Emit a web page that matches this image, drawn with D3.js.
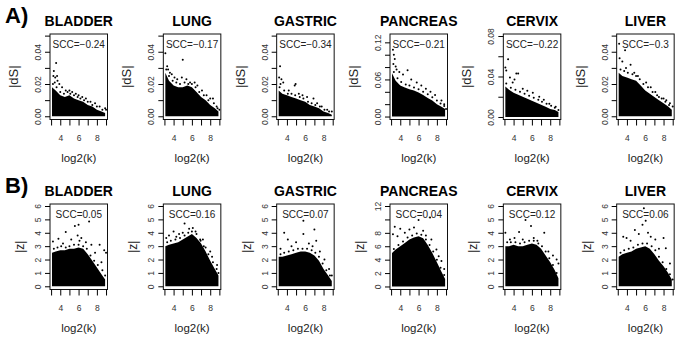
<!DOCTYPE html>
<html>
<head>
<meta charset="utf-8">
<script src="https://cdn.jsdelivr.net/npm/d3@7"></script>
<style>
  body { margin: 0; background: #fff; }
  svg { display: block; font-family: "Liberation Sans", Arial, sans-serif; }
</style>
</head>
<body>
<div id="chart"></div>
<script>
// Panels, left to right
const cancers = ["BLADDER", "LUNG", "GASTRIC", "PANCREAS", "CERVIX", "LIVER"];
const sccDS = ["-0.24", "-0.17", "-0.34", "-0.21", "-0.22", "-0.3"];
const sccZ = ["0.05", "0.16", "0.07", "0.04", "0.12", "0.06"];

// x axis, log2(k)
const kTicks = [3, 4, 5, 6, 7, 8, 9];
const kLabels = [4, 6, 8];
// grid on which the top edge of the dense point mass was read
const kGrid = [3.1, 3.5, 4, 4.5, 5, 5.5, 6, 6.5, 7, 7.5, 8, 8.5, 8.9];

// row A: |dS|
const dsDomains = [[-0.002, 0.051], [-0.002, 0.051], [-0.002, 0.051], [-0.0048, 0.1335], [-0.0025, 0.082], [-0.002, 0.051]];
const dsTicks = [
  [0, 0.01, 0.02, 0.03, 0.04, 0.05], [0, 0.01, 0.02, 0.03, 0.04, 0.05], [0, 0.01, 0.02, 0.03, 0.04, 0.05],
  [0, 0.02, 0.04, 0.06, 0.08, 0.1, 0.12], [0, 0.02, 0.04, 0.06, 0.08], [0, 0.01, 0.02, 0.03, 0.04, 0.05]
];
const dsLabels = [[0, 0.02, 0.04], [0, 0.02, 0.04], [0, 0.02, 0.04], [0, 0.06, 0.12], [0, 0.04, 0.08], [0, 0.02, 0.04]];
const dsMass = [
  [0.018, 0.016, 0.013, 0.012, 0.013, 0.011, 0.010, 0.009, 0.007, 0.006, 0.004, 0.003, 0.002],
  [0.027, 0.022, 0.019, 0.018, 0.018, 0.019, 0.018, 0.015, 0.012, 0.010, 0.007, 0.005, 0.003],
  [0.016, 0.014, 0.013, 0.012, 0.011, 0.010, 0.009, 0.007, 0.006, 0.005, 0.003, 0.002, 0.001],
  [0.070, 0.058, 0.050, 0.047, 0.044, 0.042, 0.039, 0.035, 0.030, 0.026, 0.020, 0.016, 0.012],
  [0.030, 0.027, 0.024, 0.022, 0.020, 0.018, 0.016, 0.014, 0.012, 0.010, 0.008, 0.007, 0.005],
  [0.027, 0.025, 0.024, 0.023, 0.022, 0.019, 0.016, 0.014, 0.012, 0.010, 0.008, 0.006, 0.004]
];
const dsPoints = [
  [[3.55,0.033],[3.3,0.028],[3.25,0.025],[3.45,0.024],[3.65,0.025],[3.7,0.022],[3.4,0.021],[3.9,0.020],[4.2,0.018],[4.6,0.016],[5.0,0.016],[5.3,0.015],[5.7,0.014],[6.0,0.013],[6.4,0.012],[6.8,0.011],[7.3,0.009],[7.8,0.008],[8.3,0.006],[8.9,0.005],[9.0,0.004],
   [3.2,0.020],[3.6,0.018],[4.0,0.015],[4.4,0.014],[4.8,0.015],[5.1,0.014],[5.5,0.013],[5.9,0.012],[6.2,0.011],[6.6,0.010],[7.0,0.009],[7.5,0.007],[8.0,0.006],[8.6,0.004]],
  [[3.1,0.039],[5.0,0.035],[3.3,0.031],[3.4,0.029],[3.6,0.027],[3.8,0.026],[4.1,0.024],[4.4,0.023],[4.9,0.024],[5.4,0.023],[5.8,0.021],[6.3,0.021],[6.6,0.019],[7.1,0.016],[7.6,0.013],[8.0,0.011],[8.3,0.011],[8.7,0.006],[9.0,0.004],
   [3.2,0.029],[3.5,0.025],[3.9,0.022],[4.3,0.021],[4.7,0.020],[5.2,0.021],[5.6,0.020],[6.0,0.020],[6.4,0.018],[6.8,0.015],[7.3,0.013],[7.8,0.010],[8.4,0.008],[8.8,0.005]],
  [[3.25,0.031],[3.15,0.024],[3.4,0.023],[3.6,0.021],[3.3,0.020],[4.85,0.019],[4.95,0.020],[4.2,0.016],[5.3,0.014],[5.7,0.013],[6.2,0.012],[6.9,0.011],[7.3,0.008],[7.8,0.006],[8.4,0.004],[8.9,0.003],
   [3.2,0.018],[3.7,0.016],[4.1,0.014],[4.5,0.014],[4.9,0.013],[5.4,0.012],[5.8,0.011],[6.3,0.009],[6.7,0.008],[7.1,0.007],[7.6,0.006],[8.1,0.004],[8.6,0.003]],
  [[3.2,0.108],[3.3,0.100],[3.4,0.093],[3.25,0.085],[3.5,0.081],[3.6,0.076],[4.8,0.075],[4.3,0.068],[3.9,0.072],[5.2,0.060],[5.8,0.055],[6.3,0.050],[6.8,0.045],[7.3,0.040],[7.8,0.035],[8.5,0.026],[8.8,0.020],[9.0,0.012],
   [3.3,0.072],[3.7,0.062],[4.1,0.056],[4.6,0.052],[5.0,0.050],[5.5,0.047],[6.0,0.044],[6.5,0.040],[7.0,0.036],[7.5,0.031],[8.0,0.026],[8.4,0.021],[8.8,0.017]],
  [[3.4,0.057],[3.1,0.049],[3.2,0.046],[4.3,0.043],[4.5,0.043],[3.6,0.039],[4.1,0.037],[3.9,0.034],[5.5,0.026],[5.0,0.028],[6.1,0.024],[6.8,0.020],[7.3,0.017],[7.9,0.013],[8.6,0.010],[8.9,0.007],
   [3.2,0.033],[3.7,0.029],[4.2,0.027],[4.7,0.025],[5.2,0.023],[5.7,0.021],[6.2,0.019],[6.7,0.017],[7.1,0.015],[7.6,0.013],[8.1,0.011],[8.5,0.009]],
  [[3.15,0.045],[3.8,0.041],[3.2,0.036],[3.5,0.034],[4.4,0.032],[3.9,0.030],[4.8,0.027],[5.2,0.025],[6.1,0.021],[6.6,0.018],[7.1,0.015],[7.5,0.012],[8.0,0.011],[8.3,0.010],[8.7,0.008],[9.0,0.006],
   [3.3,0.029],[3.7,0.028],[4.1,0.027],[4.6,0.026],[5.0,0.025],[5.4,0.023],[5.8,0.020],[6.3,0.018],[6.8,0.015],[7.3,0.013],[7.8,0.011],[8.2,0.009],[8.6,0.007]]
];

// row B: |z|
const zDomains = [[-0.24, 6.15], [-0.24, 6.15], [-0.24, 6.15], [-0.45, 12.3], [-0.24, 6.15], [-0.24, 6.15]];
const zTicks = [[0,1,2,3,4,5,6], [0,1,2,3,4,5,6], [0,1,2,3,4,5,6], [0,2,4,6,8,10,12], [0,1,2,3,4,5,6], [0,1,2,3,4,5,6]];
const zLabels = [[0,1,2,3,4,5,6], [0,1,2,3,4,5,6], [0,1,2,3,4,5,6], [0,2,4,6,8,12], [0,1,2,3,4,5,6], [0,1,2,3,4,5,6]];
const zMass = [
  [2.5, 2.6, 2.7, 2.7, 2.8, 2.8, 2.9, 2.8, 2.4, 1.9, 1.4, 0.9, 0.5],
  [3.0, 3.1, 3.2, 3.3, 3.5, 3.7, 3.9, 3.6, 3.2, 2.6, 1.9, 1.3, 0.8],
  [2.2, 2.2, 2.3, 2.4, 2.5, 2.6, 2.6, 2.5, 2.3, 1.9, 1.3, 0.8, 0.4],
  [5.0, 5.5, 6.0, 6.5, 7.0, 7.3, 7.5, 7.2, 6.2, 5.0, 3.6, 2.2, 1.1],
  [3.0, 3.0, 3.1, 3.0, 3.0, 3.1, 3.2, 3.1, 2.8, 2.3, 1.8, 1.2, 0.6],
  [2.2, 2.4, 2.5, 2.6, 2.8, 2.9, 3.0, 2.8, 2.4, 1.9, 1.5, 1.0, 0.5]
];
const zPoints = [
  [[7.15,4.85],[5.6,4.5],[6.0,4.6],[4.6,4.05],[3.2,3.35],[3.8,3.55],[5.9,3.8],[6.3,3.6],[6.1,3.4],[5.2,3.5],[4.3,3.2],[6.8,3.3],[7.4,3.1],[8.3,3.1],[8.8,2.7],[9.0,2.5],[7.8,2.5],[8.5,1.8],
   [3.3,2.8],[3.7,2.9],[4.1,3.0],[4.6,2.9],[5.0,3.0],[5.5,3.1],[6.0,3.1],[6.5,3.0],[6.9,2.8],[7.3,2.3],[7.7,1.9],[8.1,1.6],[8.6,1.2],[8.9,0.8]],
  [[5.2,4.7],[3.5,3.8],[4.0,4.1],[6.1,4.35],[6.4,4.1],[5.7,4.3],[4.6,3.9],[6.95,3.4],[7.5,2.9],[8.2,2.2],[8.75,1.6],[3.2,3.6],[4.3,3.7],[5.0,4.0],[7.2,3.5],[8.0,2.6],[8.9,1.0],
   [3.3,3.3],[3.7,3.4],[4.2,3.5],[4.7,3.6],[5.2,3.8],[5.6,4.0],[6.0,4.1],[6.5,3.9],[6.9,3.5],[7.3,3.0],[7.8,2.4],[8.3,1.8],[8.7,1.3]],
  [[5.8,4.9],[5.8,3.9],[3.7,4.0],[7.0,4.25],[7.2,3.4],[4.1,3.5],[5.0,3.3],[4.5,3.0],[6.4,3.2],[6.8,3.0],[7.6,2.6],[8.1,2.0],[8.6,1.3],[8.9,0.8],[3.3,2.8],
   [3.3,2.4],[3.7,2.5],[4.2,2.6],[4.7,2.7],[5.2,2.8],[5.7,2.8],[6.2,2.8],[6.7,2.7],[7.1,2.5],[7.5,2.2],[7.9,1.7],[8.3,1.2],[8.7,0.8]],
  [[7.25,10.3],[6.0,9.9],[3.4,8.9],[4.0,8.6],[5.5,8.8],[6.5,8.3],[7.4,7.0],[7.95,5.5],[8.5,3.8],[4.5,8.0],[5.0,8.5],[3.2,7.8],[3.7,7.5],[6.8,7.6],[8.2,4.5],[8.8,2.6],
   [3.3,5.6],[3.8,6.2],[4.3,6.7],[4.8,7.3],[5.3,7.6],[5.8,7.9],[6.3,7.7],[6.8,7.0],[7.2,6.2],[7.6,5.2],[8.0,4.0],[8.4,2.8],[8.8,1.7]],
  [[5.3,4.95],[5.9,4.5],[7.35,4.0],[4.6,4.05],[3.1,4.0],[4.1,3.6],[5.0,3.5],[6.2,3.6],[6.6,3.4],[3.6,3.5],[7.8,2.6],[8.7,2.0],[8.9,1.7],[8.3,2.3],
   [3.3,3.3],[3.7,3.3],[4.2,3.3],[4.7,3.2],[5.2,3.3],[5.7,3.4],[6.2,3.4],[6.7,3.2],[7.1,3.0],[7.5,2.6],[7.9,2.1],[8.3,1.6],[8.7,1.0]],
  [[5.85,5.83],[6.05,4.9],[5.7,4.6],[4.87,4.2],[6.3,4.0],[3.96,3.6],[3.6,3.7],[7.1,3.5],[8.0,3.6],[8.25,2.85],[5.3,3.9],[6.6,3.7],[4.4,3.4],[7.5,2.8],[8.7,1.7],[9.0,0.5],
   [3.3,2.5],[3.7,2.7],[4.2,2.8],[4.7,2.9],[5.2,3.1],[5.7,3.2],[6.2,3.2],[6.7,3.0],[7.1,2.7],[7.5,2.2],[7.9,1.8],[8.3,1.3],[8.7,0.9]]
];

const width = 680, height = 340;
const panelW = width / 6;
const box = {left: 50, width: 57.5, top: 34, height: 85.5};

const svg = d3.select("#chart")
  .append("svg")
  .attr("width", width)
  .attr("height", height);

const rows = [
  {label: "A)", y0: 0, ylab: "|dS|", ylabX: 14, ylabSize: 13, domains: dsDomains, ticks: dsTicks, labels: dsLabels, mass: dsMass, points: dsPoints, scc: sccDS},
  {label: "B)", y0: 170, ylab: "|z|", ylabX: 20, ylabSize: 12, domains: zDomains, ticks: zTicks, labels: zLabels, mass: zMass, points: zPoints, scc: sccZ}
];

rows.forEach((row, r) => {
  svg.append("text")
    .attr("x", 5)
    .attr("y", row.y0 + 23)
    .style("font-size", "22px")
    .style("font-weight", "bold")
    .text(row.label);

  cancers.forEach((name, i) => {
    const bx = i * panelW + box.left;
    const by = row.y0 + box.top;
    const g = svg.append("g");

    const x = d3.scaleLinear().domain([2.88, 9.16]).range([bx, bx + box.width]);
    const y = d3.scaleLinear().domain(row.domains[i]).range([by + box.height, by]);

    const isZ = r === 1;
    const fmt = isZ ? d3.format("d") : d3.format(".2f");

    // dense bulk of the points
    const area = d3.area()
      .x(d => x(d[0]))
      .y0(y(0))
      .y1(d => y(d[1]));
    g.append("path")
      .datum(kGrid.map((k, j) => [k, row.mass[i][j]]))
      .attr("d", area)
      .attr("fill", "#000");

    g.selectAll("circle")
      .data(row.points[i])
      .join("circle")
        .attr("cx", d => x(d[0]))
        .attr("cy", d => y(d[1]))
        .attr("r", 1)
        .attr("fill", "#000");

    g.append("rect")
      .attr("x", bx)
      .attr("y", by)
      .attr("width", box.width)
      .attr("height", box.height)
      .attr("fill", "none")
      .attr("stroke", "#111");

    const yAxis = d3.axisLeft(y)
      .tickValues(row.ticks[i])
      .tickSize(5)
      .tickFormat(d => row.labels[i].some(v => Math.abs(v - d) < 1e-9) ? fmt(d) : "");
    const yGroup = g.append("g")
      .attr("transform", `translate(${bx},0)`)
      .call(yAxis)
      .call(a => a.select(".domain").remove());
    yGroup.selectAll("text")
      .attr("transform", "rotate(-90)")
      .attr("x", 0)
      .attr("y", -9)
      .attr("dy", 0)
      .style("text-anchor", "middle")
      .style("font-size", "8.5px")
      .style("fill", "#333")
      .style("font-family", "'Liberation Sans', Arial, sans-serif");

    const xAxis = d3.axisBottom(x)
      .tickValues(kTicks)
      .tickSize(6)
      .tickPadding(9)
      .tickFormat(d => kLabels.includes(d) ? d : "");
    const xGroup = g.append("g")
      .attr("transform", `translate(0,${by + box.height})`)
      .call(xAxis)
      .call(a => a.select(".domain").remove());
    xGroup.selectAll("text")
      .style("font-size", "8.5px")
      .style("fill", "#333")
      .style("font-family", "'Liberation Sans', Arial, sans-serif");

    const cx = bx + box.width / 2;
    g.append("text")
      .attr("x", cx)
      .attr("y", row.y0 + 26)
      .attr("text-anchor", "middle")
      .style("font-size", "14px")
      .style("font-weight", "bold")
      .text(name);

    g.append("text")
      .attr("x", cx)
      .attr("y", by + 14)
      .attr("text-anchor", "middle")
      .style("font-size", "10px")
      .style("fill", "#222")
      .text("SCC=" + row.scc[i].replace("-", "\u2212"));

    g.append("text")
      .attr("x", cx)
      .attr("y", row.y0 + 162)
      .attr("text-anchor", "middle")
      .style("font-size", "11.5px")
      .style("fill", "#222")
      .text("log2(k)");

    g.append("text")
      .attr("transform", `translate(${i * panelW + row.ylabX + 4},${by + box.height / 2}) rotate(-90)`)
      .attr("text-anchor", "middle")
      .style("font-size", `${row.ylabSize}px`)
      .style("fill", "#222")
      .text(row.ylab);
  });
});
</script>
</body>
</html>
